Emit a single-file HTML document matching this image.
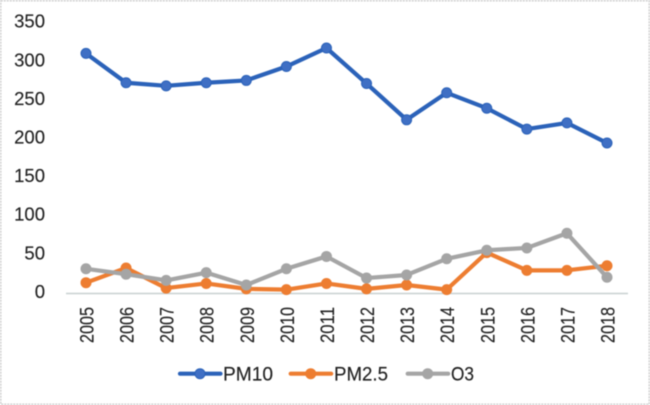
<!DOCTYPE html>
<html>
<head>
<meta charset="utf-8">
<title>PM10, PM2.5 and O3 by year</title>
<style>
html,body{margin:0;padding:0;background:#fff;}
body{width:650px;height:405px;overflow:hidden;}
svg{display:block;filter:blur(0.45px);}
text{font-family:"Liberation Sans",sans-serif;fill:#222;stroke:#222;stroke-width:0.15px;}
</style>
</head>
<body>
<svg id="chart" xmlns="http://www.w3.org/2000/svg" width="650" height="405" viewBox="0 0 650 405">
  <rect x="0" y="0" width="650" height="405" fill="#ffffff"/>
  <rect x="0.75" y="0.75" width="648.5" height="403.5" fill="none" stroke="#cfcfcf" stroke-width="1.5" stroke-dasharray="2 1"/>
  <g id="y-axis"></g>
  <g id="x-axis"></g>
  <g id="series"></g>
  <g id="legend"></g>
</svg>
<script>
const categories = ["2005","2006","2007","2008","2009","2010","2011","2012","2013","2014","2015","2016","2017","2018"];
const yTicks = [0,50,100,150,200,250,300,350];
const pm10 = [311,273,269,273,276,294,318,272,225,260,240,213,221,195];
const pm25 = [14,33,7,13,6,5,13,6,11,5,53,30,30,36];
const o3 = [32,25,17,27,11,32,48,20,24,45,56,59,78,21];

const NS = "http://www.w3.org/2000/svg";
const X0 = 86, XSTEP = (607 - 86) / 13;
const Y0 = 293.5, YUNIT = 0.772;
function xPos(i){ return X0 + i * XSTEP; }
function yPos(v){ return Y0 - v * YUNIT; }
function make(tag, parent){
  const el = document.createElementNS(NS, tag);
  parent.appendChild(el);
  return el;
}

const yAxis = document.getElementById("y-axis");
yTicks.forEach(function(t){
  const label = make("text", yAxis);
  
  
  label.setAttribute("x", 45);
  label.setAttribute("y", yPos(t) + 4.4);
  label.setAttribute("text-anchor", "end");
  label.setAttribute("font-size", "18.5");
  label.textContent = t;
});

const xAxis = document.getElementById("x-axis");
const axisLine = make("line", xAxis);


axisLine.setAttribute("x1", 66);
axisLine.setAttribute("x2", 628);
axisLine.setAttribute("y1", Y0);
axisLine.setAttribute("y2", Y0);
axisLine.setAttribute("stroke", "#c8d0d0");
axisLine.setAttribute("stroke-width", "1.5");
categories.forEach(function(c, i){
  const label = make("text", xAxis);
  
  
  label.setAttribute("transform", "translate(" + (xPos(i) + 7.5) + ",343) rotate(-90)");
  label.setAttribute("font-size", "19");
  label.setAttribute("textLength", "36");
  label.setAttribute("lengthAdjust", "spacingAndGlyphs");
  label.textContent = c;
});

const seriesList = [
  {label:"PM10", values:pm10, line:"#2b62b9", fill:"#3f6fc4", lx:180, tx:223, tw:50},
  {label:"PM2.5", values:pm25, line:"#ed7d31", fill:"#ed7d31", lx:290.7, tx:334, tw:54},
  {label:"O3", values:o3, line:"#a5a5a5", fill:"#a5a5a5", lx:407.7, tx:451, tw:23}
];

const seriesRoot = document.getElementById("series");
seriesList.forEach(function(s){
  const g = make("g", seriesRoot);
  
  
  const path = make("polyline", g);
  
  
  path.setAttribute("points", s.values.map(function(v, i){ return xPos(i) + "," + yPos(v); }).join(" "));
  path.setAttribute("fill", "none");
  path.setAttribute("stroke", s.line);
  path.setAttribute("stroke-width", "4.2");
  path.setAttribute("stroke-linejoin", "round");
  s.values.forEach(function(v, i){
    const pt = make("circle", g);
    
    
    pt.setAttribute("cx", xPos(i));
    pt.setAttribute("cy", yPos(v));
    pt.setAttribute("r", "5");
    pt.setAttribute("fill", s.fill);
    pt.setAttribute("stroke", s.line);
    pt.setAttribute("stroke-width", "1");
  });
});

const legend = document.getElementById("legend");
const LEGEND_Y = 373.7;
seriesList.forEach(function(s){
  const entry = make("g", legend);
  
  
  const key = make("line", entry);
  
  
  key.setAttribute("x1", s.lx);
  key.setAttribute("x2", s.lx + 40.5);
  key.setAttribute("y1", LEGEND_Y);
  key.setAttribute("y2", LEGEND_Y);
  key.setAttribute("stroke", s.line);
  key.setAttribute("stroke-width", "4.2");
  key.setAttribute("stroke-linecap", "round");
  const dot = make("circle", entry);
  
  
  dot.setAttribute("cx", s.lx + 20);
  dot.setAttribute("cy", LEGEND_Y);
  dot.setAttribute("r", "5");
  dot.setAttribute("fill", s.fill);
  dot.setAttribute("stroke", s.line);
  dot.setAttribute("stroke-width", "1");
  const text = make("text", entry);
  
  
  text.setAttribute("x", s.tx);
  text.setAttribute("y", LEGEND_Y + 6.8);
  text.setAttribute("font-size", "19");
  text.setAttribute("textLength", s.tw);
  text.setAttribute("lengthAdjust", "spacingAndGlyphs");
  text.textContent = s.label;
});
</script>
</body>
</html>
